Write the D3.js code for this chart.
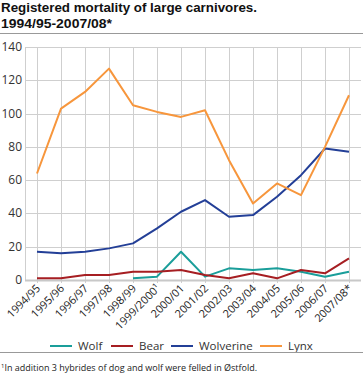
<!DOCTYPE html>
<html><head><meta charset="utf-8">
<script src="https://cdn.jsdelivr.net/npm/d3@7"></script>
<style>body{margin:0;background:#fff}svg{display:block;font-family:"Open Sans",sans-serif}</style>
</head><body><svg id="c" width="363" height="378"></svg>
<script>
const categories=["1994/95","1995/96","1996/97","1997/98","1998/99","1999/2000¹","2000/01","2001/02","2002/03","2003/04","2004/05","2005/06","2006/07","2007/08*"];
const wolf=[null,null,null,null,1,2,17,2,7,6,7,5,2,5];
const bear=[1,1,3,3,5,5,6,3,1,4,1,6,4,13];
const wolverine=[17,16,17,19,22,31,41,48,38,39,50,63,79,77];
const lynx=[64,103,113,127,105,101,98,102,72,46,58,51,80,111];
const yTicks=[0,20,40,60,80,100,120,140];
const seriesNames=["Wolf","Bear","Wolverine","Lynx"];
const colors=["#1a9e9a","#a61e22","#233f97","#f7963c"];
const series=[wolf,bear,wolverine,lynx];

const svg=d3.select("#c");
const x=d3.scaleBand().domain(categories).range([25,361]);
const y=d3.scaleLinear().domain([0,140]).range([280,47]);
const cx=d=>x(d)+x.bandwidth()/2;

// title
const tf='"Liberation Sans",Arial,sans-serif';
svg.append("text").attr("x",1).attr("y",12).attr("font-family",tf).attr("font-size",12.5).attr("font-weight","bold").attr("fill","#111")
 .attr("textLength",256).attr("lengthAdjust","spacingAndGlyphs").text("Registered mortality of large carnivores.");
svg.append("text").attr("x",1).attr("y",28).attr("font-family",tf).attr("font-size",12.5).attr("font-weight","bold").attr("fill","#111")
 .attr("textLength",111).attr("lengthAdjust","spacingAndGlyphs").text("1994/95-2007/08*");
svg.append("line").attr("x1",0).attr("x2",363).attr("y1",33.5).attr("y2",33.5).attr("stroke","#999").attr("stroke-width",1);

// grid
const g=svg.append("g");
g.selectAll(".hg").data(yTicks.filter(d=>d>0)).join("line").attr("x1",25).attr("x2",361).attr("y1",d=>Math.round(y(d))+0.5).attr("y2",d=>Math.round(y(d))+0.5).attr("stroke","#cfcfcf");
g.selectAll(".vg").data(categories).join("line").attr("x1",d=>Math.round(cx(d))+0.5).attr("x2",d=>Math.round(cx(d))+0.5).attr("y1",y(140)).attr("y2",y(0)+3).attr("stroke","#cfcfcf");
g.append("line").attr("x1",25.5).attr("x2",25.5).attr("y1",y(140)).attr("y2",y(0)).attr("stroke","#cfcfcf");
g.append("line").attr("x1",25).attr("x2",361).attr("y1",y(0)+0.5).attr("y2",y(0)+0.5).attr("stroke","#c8c8c8").attr("stroke-width",2);

// y labels
svg.selectAll(".yl").data(yTicks).join("text").attr("x",22).attr("y",d=>y(d)+4).attr("text-anchor","end").attr("font-size",12).attr("fill","#333").text(d=>d);

// x labels
svg.selectAll(".xl").data(categories).join("text")
 .attr("transform",d=>`translate(${cx(d)+4},${y(0)+9}) rotate(-45)`)
 .attr("text-anchor","end").attr("font-size",11).attr("fill","#222").text(d=>d);

// lines
const line=d3.line().defined(d=>d[1]!=null).x(d=>cx(d[0])).y(d=>y(d[1]));
series.forEach((s,i)=>{
 svg.append("path").datum(categories.map((c,j)=>[c,s[j]])).attr("d",line).attr("fill","none").attr("stroke",colors[i]).attr("stroke-width",2).attr("stroke-linejoin","round");
});

// legend
const lx=[50,111,171,260];
seriesNames.forEach((n,i)=>{
 svg.append("line").attr("x1",lx[i]).attr("x2",lx[i]+22).attr("y1",346).attr("y2",346).attr("stroke",colors[i]).attr("stroke-width",2);
 svg.append("text").attr("x",lx[i]+28).attr("y",350).attr("font-size",11.5).attr("fill","#333").text(n);
});
svg.append("line").attr("x1",0).attr("x2",363).attr("y1",352.5).attr("y2",352.5).attr("stroke","#999");
const fn=svg.append("text").attr("x",1).attr("y",370.5).attr("font-size",9).attr("fill","#222");
fn.append("tspan").attr("font-size",6).attr("dy",-3).text("1");
fn.append("tspan").attr("dy",3).text("In addition 3 hybrides of dog and wolf were felled in Østfold.");
</script></body></html>
